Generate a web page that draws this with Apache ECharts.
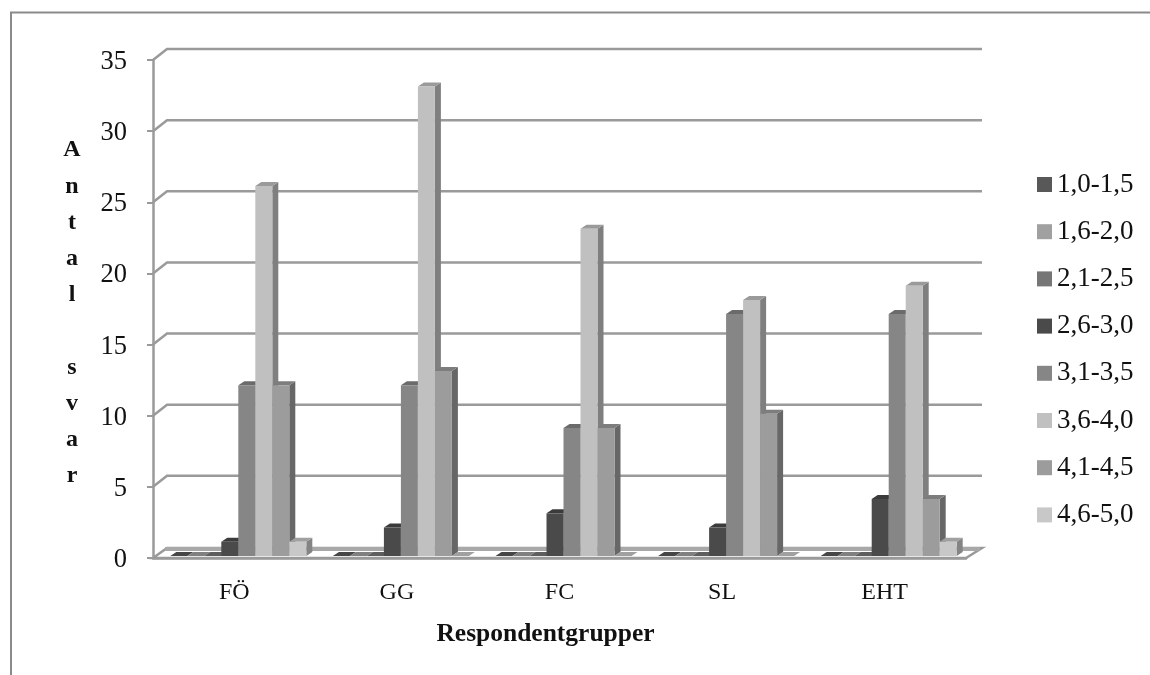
<!DOCTYPE html>
<html><head><meta charset="utf-8">
<style>html,body{margin:0;padding:0;background:#fff}#c{width:1150px;height:675px}</style>
<script src="https://cdn.jsdelivr.net/npm/echarts@6/dist/echarts.min.js"></script>
</head><body><div id="c"></div>
<script>
const categories = ['FÖ','GG','FC','SL','EHT'];
const seriesNames = ['1,0-1,5','1,6-2,0','2,1-2,5','2,6-3,0','3,1-3,5','3,6-4,0','4,1-4,5','4,6-5,0'];
const s10_15 = [0,0,0,0,0];
const s16_20 = [0,0,0,0,0];
const s21_25 = [0,0,0,0,0];
const s26_30 = [1,2,3,2,4];
const s31_35 = [12,12,9,17,17];
const s36_40 = [26,33,23,18,19];
const s41_45 = [12,13,9,10,4];
const s46_50 = [1,0,0,0,1];
const seriesValues = [s10_15,s16_20,s21_25,s26_30,s31_35,s36_40,s41_45,s46_50];
const seriesColors = ['#585858','#a0a0a0','#767676','#4a4a4a','#868686','#c0c0c0','#9c9c9c','#c8c8c8'];
const tickValues = [0,5,10,15,20,25,30,35];
const yTitle = 'A\nn\nt\na\nl\n \ns\nv\na\nr';
const xTitle = 'Respondentgrupper';

const FONT = '"Liberation Serif", serif';
const GRID = '#9a9a9a';
const chart = echarts.init(document.getElementById('c'), null, {renderer:'canvas'});

function darken(hex, k){
  const n = parseInt(hex.slice(1),16);
  const f = s => Math.round(((n>>s)&255)*k);
  return 'rgb('+f(16)+','+f(8)+','+f(0)+')';
}
function wall(params, api){
  const v = api.value(0), cs = params.coordSys;
  const y = api.coord([0, v])[1], xl = cs.x, xr = cs.x + cs.width;
  const style = {stroke: GRID, lineWidth: 2.5, fill: 'none'};
  if (v === 0) {
    return {type:'group', children:[
      {type:'polygon', shape:{points:[[xl,y],[xr,y],[xr+16,y-10],[xl+14,y-10]]},
       style:{stroke:GRID, lineWidth:2.5, fill:'#ffffff'}},
      {type:'line', shape:{x1:xl+12,y1:y-9,x2:xr+14,y2:y-9}, style:{stroke:'#a8a8a8', lineWidth:4}}
    ]};
  }
  return {type:'polyline', shape:{points:[[xl,y],[xl+14,y-11],[xr+16,y-11]]}, style};
}
function bar(params, api){
  const i = params.seriesIndex - 1;
  const c = api.coord([api.value(0), 0]);
  const top = api.coord([api.value(0), api.value(1)])[1];
  const unit = api.size([1,0])[0] * 17 / 162.6;
  const x0 = c[0] + 4 + (i-4)*unit, x1 = x0 + unit, yb = c[1]-2, yt = top-2;
  const dx = 6, dy = 4, col = seriesColors[i];
  return {type:'group', children:[
    {type:'polygon', shape:{points:[[x1,yb],[x1+dx,yb-dy],[x1+dx,yt-dy],[x1,yt]]}, style:{fill:darken(col,0.66)}},
    {type:'polygon', shape:{points:[[x0,yt],[x1,yt],[x1+dx,yt-dy],[x0+dx,yt-dy]]}, style:{fill:darken(col,0.8)}},
    {type:'rect', shape:{x:x0,y:yt,width:unit,height:yb-yt}, style:{fill:col}}
  ]};
}
const option = {
  animation:false,
  backgroundColor:'#fff',
  textStyle:{fontFamily:FONT},
  grid:{left:153,right:184,top:60,bottom:117,containLabel:false},
  legend:{orient:'vertical',left:1032,top:166,itemWidth:15,itemHeight:15,itemGap:20.2,
    data:seriesNames,icon:'rect',selectedMode:false,
    textStyle:{fontFamily:FONT,fontSize:27,color:'#111'}},
  xAxis:{type:'category',data:categories,
    name:xTitle,nameLocation:'middle',nameGap:63,
    nameTextStyle:{fontFamily:FONT,fontWeight:'bold',fontSize:25.5,color:'#111',padding:[0,28,0,0]},
    axisLine:{lineStyle:{color:GRID,width:2.5}},
    axisTick:{length:7,lineStyle:{color:GRID,width:2},alignWithLabel:false},
    axisLabel:{margin:23,fontSize:24,color:'#111',fontFamily:FONT},splitLine:{show:false}},
  yAxis:{type:'value',min:0,max:35,interval:5,
    axisLine:{show:true,lineStyle:{color:GRID,width:2.5}},
    axisTick:{show:true,length:6,lineStyle:{color:GRID,width:2}},
    axisLabel:{margin:26,fontSize:26.5,color:'#111',fontFamily:FONT,verticalAlign:'top',lineHeight:4},splitLine:{show:false}},
  graphic:[
    {type:'polyline',silent:true,z:-1,
     shape:{points:[[11,675],[11,12.5],[1150,12.5]]},
     style:{stroke:'#8a8a8a',lineWidth:2,fill:'none'}},
    {type:'text',silent:true,x:72,y:313,
     style:{text:yTitle,align:'center',verticalAlign:'middle',lineHeight:36.2,
            font:'bold 24px '+FONT,fill:'#111'}}
  ],
  series:[
    {type:'custom',name:'wall',renderItem:wall,clip:false,silent:true,z:1,
     encode:{y:0},data:tickValues.map(v=>[v])},
    ...seriesNames.map((n,i)=>({type:'custom',name:n,renderItem:bar,clip:false,z:2,
      itemStyle:{color:seriesColors[i]},encode:{x:0,y:1},
      data:seriesValues[i].map((v,k)=>[k,v])}))
  ]
};
chart.setOption(option);
</script></body></html>
